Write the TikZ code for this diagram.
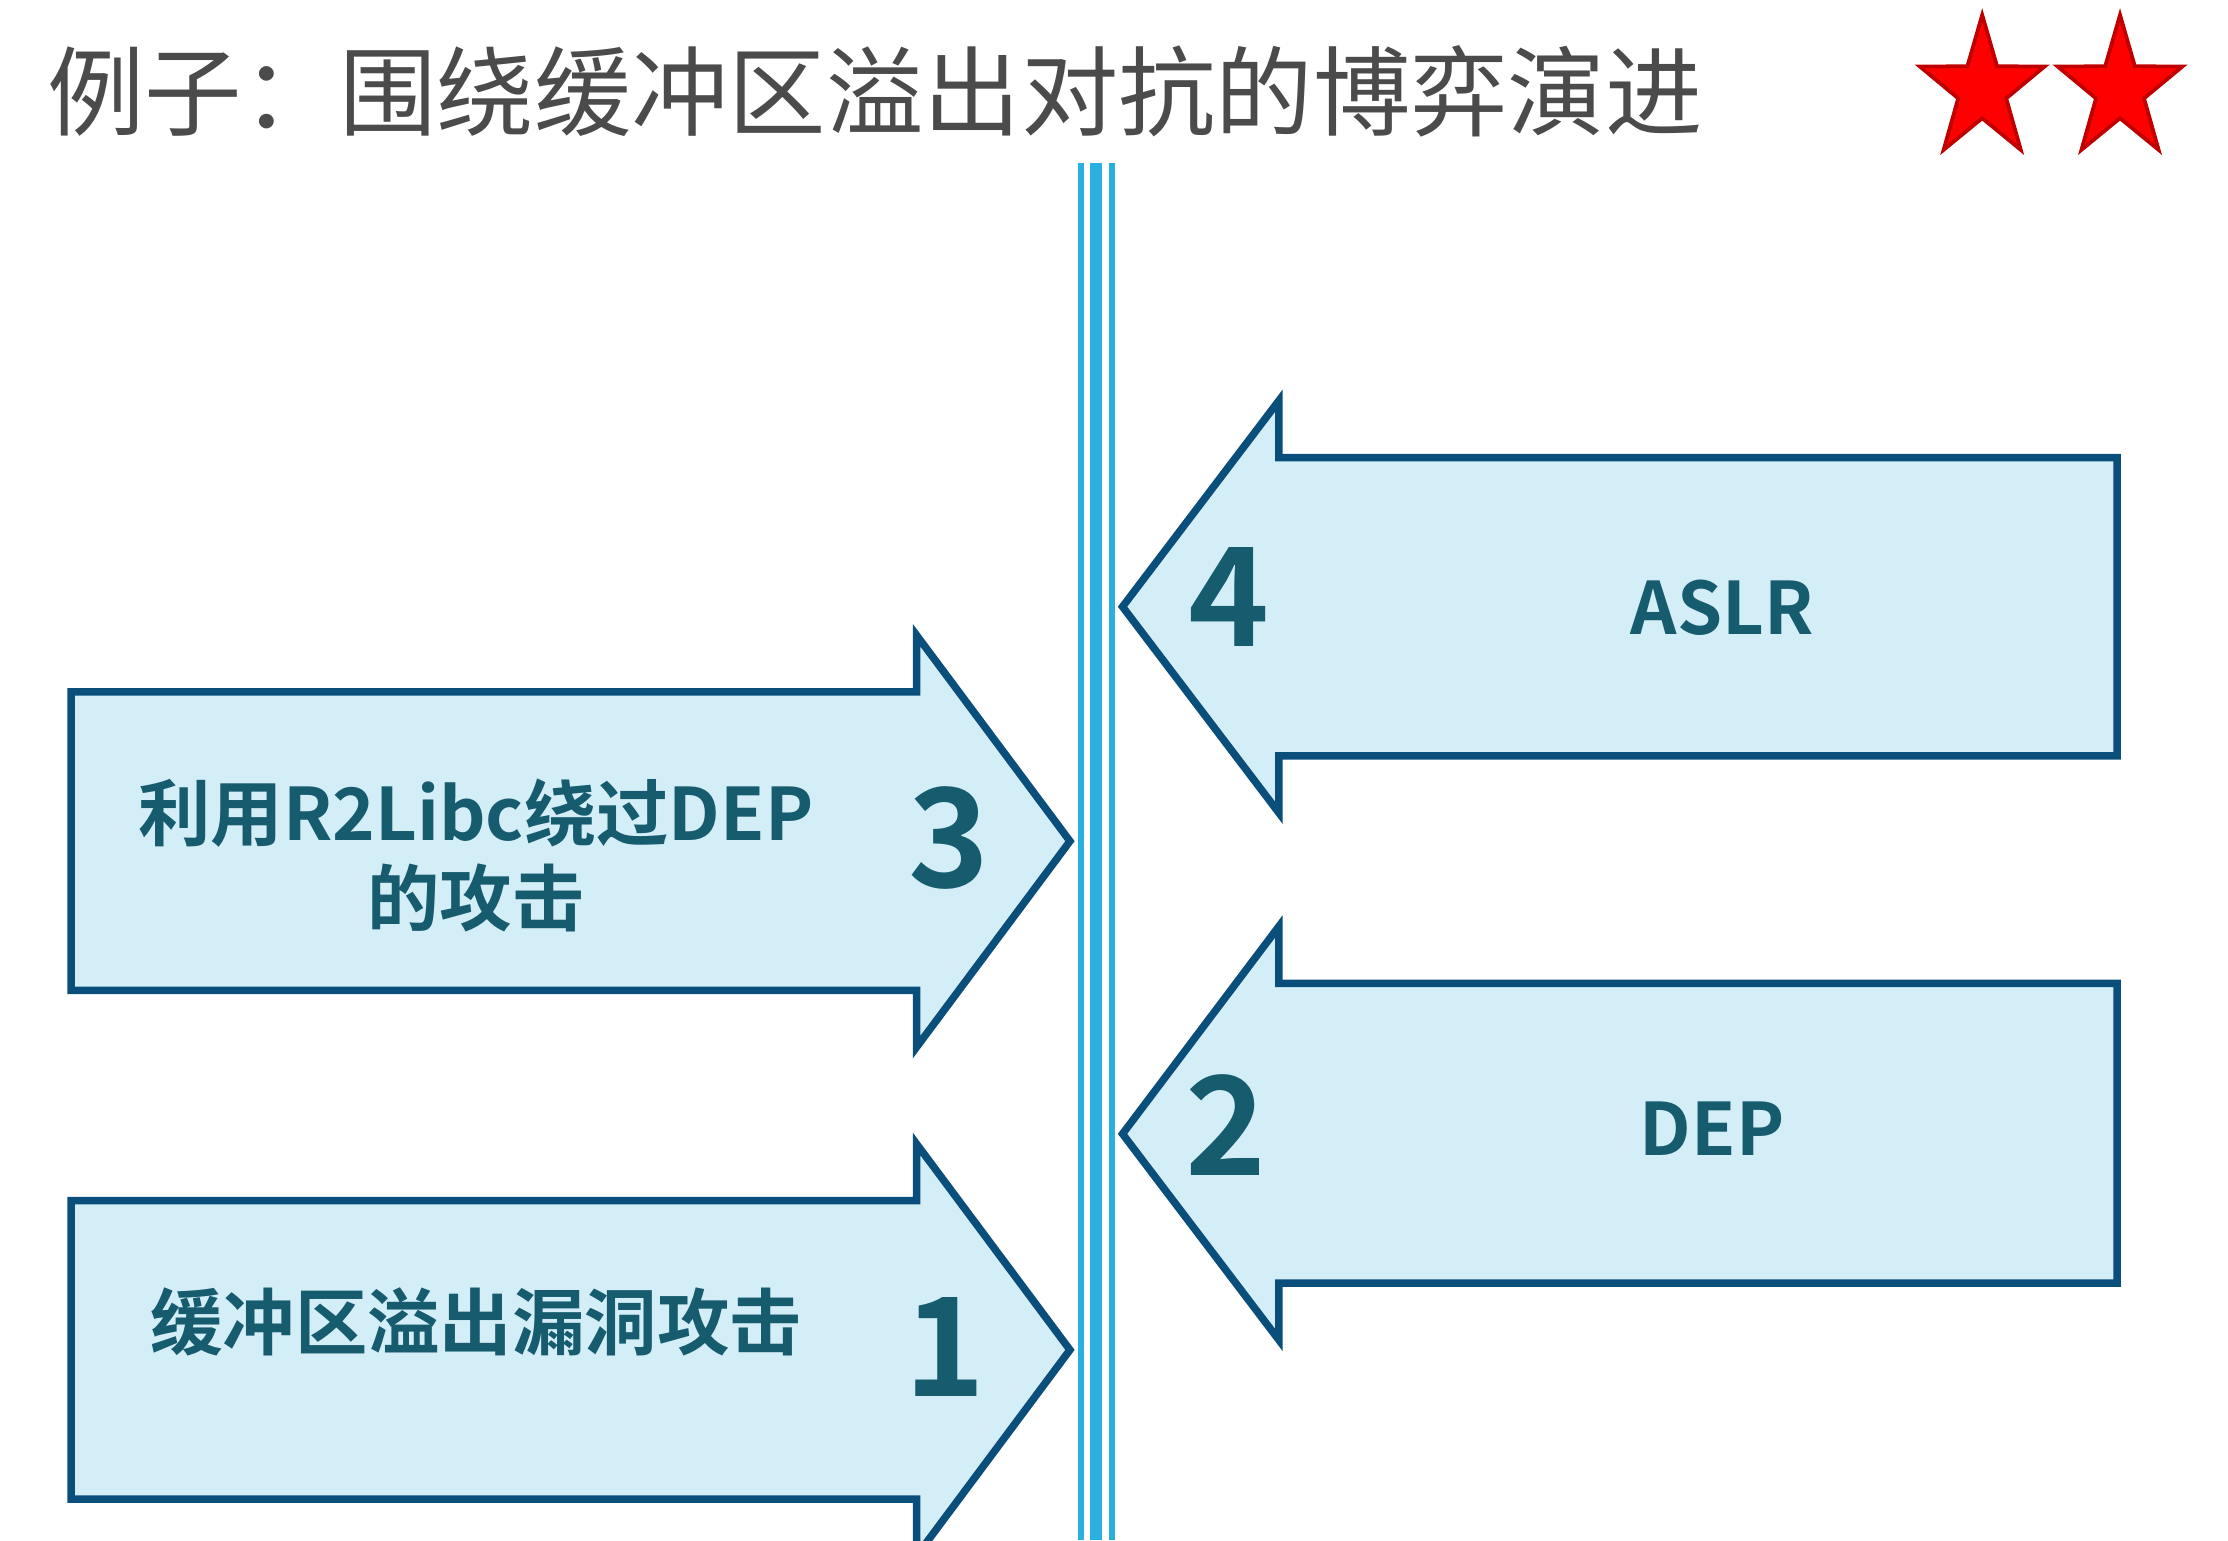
\documentclass[tikz,border=0pt]{standalone}
\usepackage{fontspec}
\setmainfont{Noto Sans CJK SC}[BoldFont={Noto Sans CJK SC Bold}]
\usetikzlibrary{shapes.geometric}
\definecolor{arrowline}{RGB}{10,78,124}
\definecolor{arrowfill}{RGB}{212,238,247}
\definecolor{textteal}{RGB}{22,91,110}
\definecolor{titlegray}{RGB}{75,75,75}
\definecolor{divider}{RGB}{41,176,224}
\definecolor{stardark}{RGB}{192,0,0}
\begin{document}
\begin{tikzpicture}[x=0.02cm, y=-0.02cm]
        % Define styles for shapes and texts
        \tikzstyle{arrowshape} = [draw=arrowline, fill=arrowfill, line width=3pt, line join=miter]
        \tikzstyle{boxtext} = [text=textteal, font=\bfseries\fontsize{29pt}{34pt}\selectfont, align=center, inner sep=0pt]
        \tikzstyle{numtext} = [text=textteal, font=\bfseries\fontsize{55pt}{60pt}\selectfont, inner sep=0pt]
        \tikzstyle{title} = [anchor=west, inner sep=0pt, text=titlegray, font=\fontsize{39pt}{44pt}\selectfont]
        \tikzstyle{redstar} = [star, star points=5, star point ratio=2.6, minimum size=2.1cm, inner sep=0pt, xscale=0.88, transform shape, fill=red, draw=stardark, line width=1.5pt]

        \useasboundingbox (0,0) rectangle (1568,1084);
        \clip (0,0) rectangle (1568,1084);

        \node (title) [title] at (33,64) {例子：围绕缓冲区溢出对抗的博弈演进};
        \node (star1) [redstar] at (1395,63) {};
        \node (star2) [redstar] at (1492,63) {};

        % Divider
        \fill [divider] (758.6,115) rectangle (763,1084);
        \fill [divider] (767,115) rectangle (775.5,1084);
        \fill [divider] (780.5,115) rectangle (784.7,1084);

        % Arrows
        \draw [arrowshape] (50,487) -- (645,487) -- (645,447) -- (753,592) -- (645,737) -- (645,697) -- (50,697) -- cycle;
        \draw [arrowshape] (50,845) -- (645,845) -- (645,805) -- (753,950) -- (645,1095) -- (645,1055) -- (50,1055) -- cycle;
        \draw [arrowshape] (1490,322) -- (900,322) -- (900,282) -- (790,427) -- (900,572) -- (900,532) -- (1490,532) -- cycle;
        \draw [arrowshape] (1490,692) -- (900,692) -- (900,652) -- (790,798) -- (900,943) -- (900,903) -- (1490,903) -- cycle;

        % Texts
        \node (bypass) [boxtext] at (335,602) {利用R2Libc绕过DEP\\的攻击};
        \node (three) [numtext] at (668,590) {3};
        \node (overflow) [boxtext] at (335,930) {缓冲区溢出漏洞攻击};
        \node (one) [numtext] at (665,948) {1};
        \node (four) [numtext] at (865,420) {4};
        \node (aslr) [boxtext] at (1212,428) {ASLR};
        \node (two) [numtext] at (863,792) {2};
        \node (dep) [boxtext] at (1205,794) {DEP};
    \end{tikzpicture}
\end{document}
